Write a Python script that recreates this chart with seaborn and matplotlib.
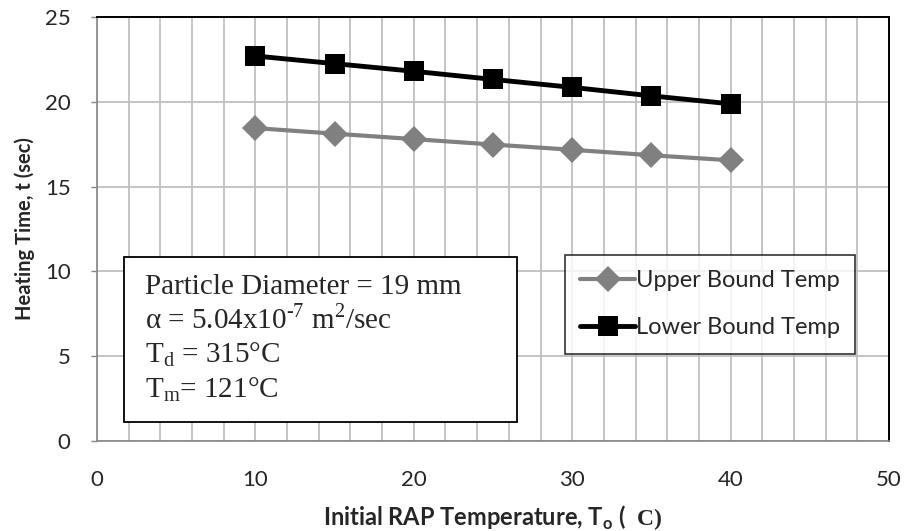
import matplotlib
matplotlib.use("Agg")
import matplotlib.pyplot as plt
from matplotlib.patches import Rectangle
from matplotlib.ticker import MultipleLocator
import seaborn as sns
import pandas as pd

# Initial RAP temperature (°C) and heating time (sec)
temps = [10, 15, 20, 25, 30, 35, 40]
upper_bound = [18.45, 18.12, 17.80, 17.48, 17.17, 16.85, 16.55]
lower_bound = [22.70, 22.25, 21.80, 21.32, 20.85, 20.35, 19.88]
series_names = ["Upper Bound Temp", "Lower Bound Temp"]

df = pd.DataFrame({
    "temp": temps * 2,
    "time": upper_bound + lower_bound,
    "series": [series_names[0]] * len(temps) + [series_names[1]] * len(temps),
})

sns.set_style("white")
plt.rcParams["font.family"] = ["Lato", "DejaVu Sans"]
plt.rcParams["mathtext.fontset"] = "custom"
plt.rcParams["mathtext.rm"] = "Lato"
plt.rcParams["mathtext.sf"] = "Liberation Serif:bold"

fig = plt.figure(figsize=(9.05, 5.31), dpi=100)
ax = fig.add_axes([97 / 905, 90 / 531, 792 / 905, 424 / 531])

sns.lineplot(
    data=df, x="temp", y="time", hue="series", style="series",
    palette={series_names[0]: "#808080", series_names[1]: "#000000"},
    markers={series_names[0]: "D", series_names[1]: "s"},
    dashes=False, markersize=13, linewidth=3.0, markeredgewidth=0,
    ax=ax, zorder=3,
)
# heavier line and larger squares for the lower-bound series
for line in list(ax.lines) + list(ax.get_legend().get_lines()):
    if line.get_label() == series_names[1] or line.get_marker() == "s":
        line.set_markersize(14)
        line.set_linewidth(3.5)

ax.set_xlim(0, 50)
ax.set_ylim(0, 25)
ax.xaxis.set_major_locator(MultipleLocator(10))
ax.xaxis.set_minor_locator(MultipleLocator(2))
ax.yaxis.set_major_locator(MultipleLocator(5))
ax.grid(which="both", axis="x", color="#BFBFBF", linewidth=1.3)
ax.grid(which="major", axis="y", color="#BFBFBF", linewidth=1.3)
ax.set_axisbelow(True)

for side in ("left", "bottom"):
    ax.spines[side].set_color("#868686")
    ax.spines[side].set_linewidth(1.2)
for side in ("top", "right"):
    ax.spines[side].set_color("#000000")
    ax.spines[side].set_linewidth(1.4)

ax.tick_params(axis="y", which="major", length=4, width=1, color="#868686",
               direction="out", labelsize=16, pad=15, left=True)
ax.tick_params(axis="x", which="both", length=0, labelsize=16, pad=21)

ax.set_ylabel("Heating Time, t (sec)", fontsize=14.5, fontweight="bold", labelpad=7)
ax.set_xlabel(r"Initial RAP Temperature, T$_\mathregular{o}$ (  $\mathsf{C)}$",
              fontsize=17, fontweight="bold", labelpad=9)

leg = ax.legend(
    loc="upper left", bbox_to_anchor=((565 - 97) / 792, (441 - 255) / 424),
    frameon=True, fancybox=False, edgecolor="black", fontsize=17,
    handlelength=2.3, handletextpad=0.05, labelspacing=1.1,
    borderpad=0.65, borderaxespad=0, title=None,
)
leg.get_frame().set_linewidth(1.2)

# Parameter box
ax.add_patch(Rectangle((27 / 792, 19 / 424), 393 / 792, 165 / 424,
                       transform=ax.transAxes, facecolor="white",
                       edgecolor="black", linewidth=1.3, zorder=4))
serif = ["Liberation Serif", "DejaVu Serif"]
box_lines = [
    "Particle Diameter = 19 mm",
    "α = 5.04x10$^{\\mathregular{\u20107}}$ m$^{\\mathregular{2}}$/sec",
    r"T$_\mathregular{d}$ = 315°C",
    r"T$_\mathregular{m}$= 121°C",
]
baselines = [294, 328, 362, 397]
for text, yb in zip(box_lines, baselines):
    ax.text((145 - 97) / 792, (441 - yb) / 424, text, transform=ax.transAxes,
            family=serif, fontsize=21, va="baseline", ha="left", zorder=5)

fig.savefig("out.png", dpi=100)
